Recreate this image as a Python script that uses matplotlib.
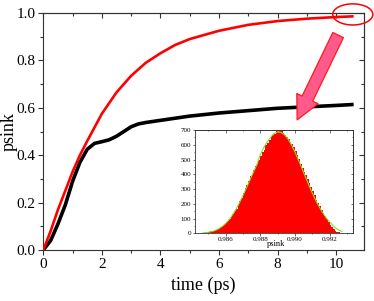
import matplotlib
matplotlib.use('Agg')
import matplotlib.pyplot as plt
import numpy as np
from matplotlib.patches import Ellipse, FancyArrowPatch
from matplotlib.ticker import MultipleLocator

plt.rcParams['font.family'] = 'Liberation Serif'
plt.rcParams['mathtext.default'] = 'regular'

# main curves
t_red = [0, 0.25, 0.5, 0.75, 1, 1.25, 1.5, 2, 2.5, 3, 3.5, 4, 4.5, 5, 6, 7, 8, 9, 10, 10.6]
p_red = [0, 0.08, 0.17, 0.25, 0.33, 0.40, 0.46, 0.575, 0.665, 0.735, 0.79, 0.83, 0.865, 0.89,
         0.925, 0.95, 0.966, 0.976, 0.983, 0.986]
t_blk = [0, 0.25, 0.5, 0.75, 1, 1.25, 1.5, 1.75, 2, 2.25, 2.5, 2.75, 3, 3.25, 3.5, 4, 4.5, 5,
         6, 7, 8, 9, 10, 10.6]
p_blk = [0, 0.04, 0.11, 0.19, 0.29, 0.37, 0.425, 0.45, 0.457, 0.465, 0.48, 0.50, 0.52, 0.532,
         0.538, 0.547, 0.556, 0.565, 0.578, 0.588, 0.598, 0.604, 0.61, 0.614]

# inset histogram of p_sink at t = 10.6 ps
bin_start = 0.9844
bin_width = 0.0001
counts = [2, 3, 4, 5, 7, 8, 10, 13, 16, 19, 24, 28, 34, 41, 52, 60, 74, 82, 97, 110,
          128, 152, 168, 190, 216, 240, 272, 305, 330, 352, 388, 405, 432, 455, 472, 498,
          522, 548, 566, 596, 612, 634, 652, 668, 676, 700, 688, 705, 690, 682, 668, 655,
          640, 622, 608, 585, 560, 530, 502, 470, 442, 418, 392, 365, 338, 312, 288, 258,
          228, 205, 184, 160, 138, 115, 94, 76, 58, 42, 28, 18, 10, 6, 3, 1]
# gaussian fit (green)
fit_x = [0.9847, 0.9850, 0.9852, 0.9854, 0.9856, 0.9858, 0.9860, 0.9862, 0.9864, 0.9866,
         0.9868, 0.9870, 0.9872, 0.9874, 0.9876, 0.9878, 0.9880, 0.9882, 0.9884, 0.9886,
         0.9888, 0.9890, 0.9892, 0.9894, 0.9896, 0.9898, 0.9900, 0.9902, 0.9904, 0.9906,
         0.9908, 0.9910, 0.9912, 0.9914, 0.9916, 0.9918, 0.9920, 0.9922, 0.9924, 0.9926,
         0.9927]
fit_y = [3, 7, 12, 19, 30, 46, 66, 92, 124, 162, 206, 255, 306, 360, 412, 462, 530, 580,
         620, 652, 676, 687, 684, 668, 640, 600, 552, 498, 442, 384, 328, 274, 224, 180,
         140, 106, 78, 52, 32, 18, 13]

fig = plt.figure(figsize=(3.74, 3.01), dpi=100)
ax = fig.add_axes([0.1158, 0.1694, 0.8572, 0.7874])
ax.plot(t_blk, p_blk, color='black', lw=2.6, solid_capstyle='butt', zorder=3)
ax.plot(t_red, p_red, color='#ff0000', lw=1.9, solid_capstyle='butt', zorder=4)
ax.set_xlim(0, 10.95)
ax.set_ylim(0, 1.0)
ax.xaxis.set_major_locator(MultipleLocator(2))
ax.xaxis.set_minor_locator(MultipleLocator(1))
ax.yaxis.set_major_locator(MultipleLocator(0.2))
ax.yaxis.set_minor_locator(MultipleLocator(0.1))
ax.yaxis.set_major_formatter(matplotlib.ticker.FormatStrFormatter('%.1f'))
ax.tick_params(which='both', direction='out', labelsize=11, color='#333333', width=0.8, pad=2)
ax.tick_params(which='major', length=3.5)
ax.tick_params(which='minor', length=2)
for s in ax.spines.values():
    s.set_color('#333333')
    s.set_linewidth(0.8)
ax.set_xlabel('time (ps)', fontsize=13, labelpad=4)
ax.set_ylabel('psink', fontsize=13)
ax.yaxis.set_label_coords(-0.079, 0.5)

# mirrored ticks pointing inwards on top / right
top = ax.secondary_xaxis('top')
top.xaxis.set_major_locator(MultipleLocator(2))
top.xaxis.set_minor_locator(MultipleLocator(1))
top.tick_params(which='both', direction='in', labeltop=False, color='#333333', width=0.8)
top.tick_params(which='major', length=3.5)
top.tick_params(which='minor', length=2)
right = ax.secondary_yaxis('right')
right.yaxis.set_major_locator(MultipleLocator(0.2))
right.yaxis.set_minor_locator(MultipleLocator(0.1))
right.tick_params(which='both', direction='in', labelright=False, color='#333333', width=0.8)
right.tick_params(which='major', length=3.5)
right.tick_params(which='minor', length=2)
for sec in (top, right):
    for s in sec.spines.values():
        s.set_color('#333333')
        s.set_linewidth(0.8)

# ellipse around the end point and the arrow
ax.add_patch(Ellipse((10.57, 0.994), 1.37, 0.089, fill=False, edgecolor='#ff0000',
                     lw=1.1, clip_on=False, zorder=5))
arrow = FancyArrowPatch((10.07, 0.907), (8.67, 0.549),
                        arrowstyle='simple,head_length=1.7,head_width=1.7,tail_width=0.85',
                        mutation_scale=10, facecolor='#ff5a8c', edgecolor='#ff1a1a',
                        lw=0.9, shrinkA=0, shrinkB=0, zorder=5)
ax.add_patch(arrow)

# inset
ins = fig.add_axes([0.5214, 0.2249, 0.4233, 0.3432])
ins.set_facecolor('white')
edges = bin_start + bin_width * np.arange(len(counts))
ins.bar(edges, counts, width=bin_width, align='edge', color='#ff0000', linewidth=0)
ins.plot(fit_x, fit_y, color='#88e02a', lw=0.8)
ins.set_xlim(0.98424, 0.99337)
ins.set_ylim(0, 700)
ins.xaxis.set_major_locator(MultipleLocator(0.002))
ins.xaxis.set_minor_locator(MultipleLocator(0.001))
ins.yaxis.set_major_locator(MultipleLocator(100))
ins.yaxis.set_minor_locator(MultipleLocator(50))
ins.xaxis.set_major_formatter(matplotlib.ticker.FormatStrFormatter('%.3f'))
ins.tick_params(which='both', direction='out', labelsize=5, color='#333333', width=0.5, pad=1)
ins.tick_params(which='major', length=1.8)
ins.tick_params(which='minor', length=1)
for s in ins.spines.values():
    s.set_color('#333333')
    s.set_linewidth(0.6)
ins.set_xlabel('psink', fontsize=6)
ins.xaxis.set_label_coords(0.515, -0.06)
itop = ins.secondary_xaxis('top')
itop.xaxis.set_major_locator(MultipleLocator(0.002))
itop.xaxis.set_minor_locator(MultipleLocator(0.001))
itop.tick_params(which='both', direction='in', labeltop=False, color='#333333', width=0.5)
itop.tick_params(which='major', length=1.8)
itop.tick_params(which='minor', length=1)
iright = ins.secondary_yaxis('right')
iright.yaxis.set_major_locator(MultipleLocator(100))
iright.yaxis.set_minor_locator(MultipleLocator(50))
iright.tick_params(which='both', direction='in', labelright=False, color='#333333', width=0.5)
iright.tick_params(which='major', length=1.8)
iright.tick_params(which='minor', length=1)
for sec in (itop, iright):
    for s in sec.spines.values():
        s.set_color('#333333')
        s.set_linewidth(0.6)

plt.savefig('out.png', dpi=100)
